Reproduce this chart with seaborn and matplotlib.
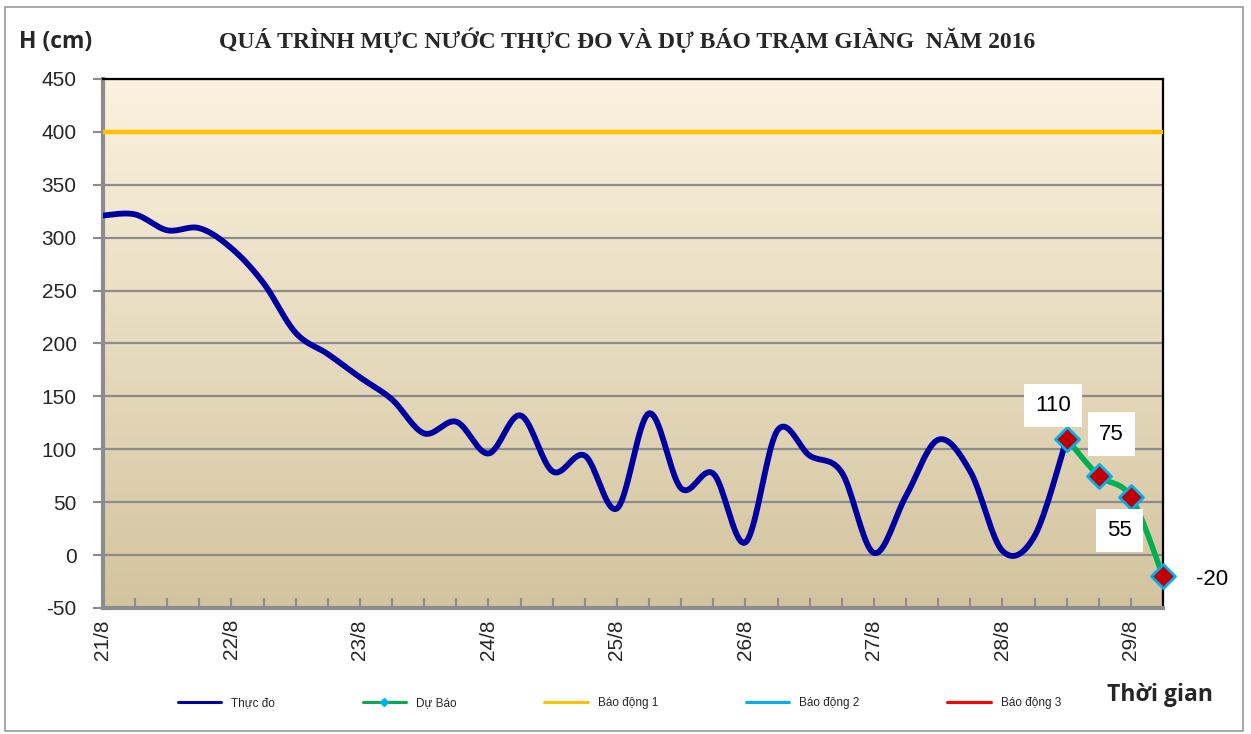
import numpy as np
import pandas as pd
import seaborn as sns
import matplotlib
matplotlib.use('Agg')
import matplotlib.pyplot as plt
from matplotlib.lines import Line2D
from matplotlib.patches import Rectangle

# water level (cm), every 6 hours from 21/8 00h
observed = [321, 322, 307, 309, 290, 257, 210, 190, 168, 147, 115, 126, 96, 132,
            79, 94, 44, 134, 63, 77, 12, 118, 94, 78, 2, 56, 109, 79, 4, 18, 110]
forecast = [110, 75, 55, -20]
alarm_1 = 400
day_labels = ['21/8', '22/8', '23/8', '24/8', '25/8', '26/8', '27/8', '28/8', '29/8']
legend_labels = ['Thực đo', 'Dự Báo', 'Báo động 1', 'Báo động 2', 'Báo động 3']
title = 'QUÁ TRÌNH MỰC NƯỚC THỰC ĐO VÀ DỰ BÁO TRẠM GIÀNG  NĂM 2016'


def smooth(x, y, n=20):
    # Catmull-Rom curve through the points, like Excel's "smoothed line"
    x = np.asarray(x, float)
    y = np.asarray(y, float)
    px = np.concatenate([[x[0]], x, [x[-1]]])
    py = np.concatenate([[y[0]], y, [y[-1]]])
    t = np.linspace(0, 1, n, endpoint=False)
    out_x, out_y = [], []
    for i in range(len(x) - 1):
        for p, out in ((px, out_x), (py, out_y)):
            p0, p1, p2, p3 = p[i], p[i + 1], p[i + 2], p[i + 3]
            out.extend(0.5 * (2 * p1 + (-p0 + p2) * t
                              + (2 * p0 - 5 * p1 + 4 * p2 - p3) * t ** 2
                              + (-p0 + 3 * p1 - 3 * p2 + p3) * t ** 3))
    out_x.append(x[-1])
    out_y.append(y[-1])
    return pd.DataFrame({'t': out_x, 'h': out_y})


obs_t = np.arange(len(observed))
fc_t = np.arange(len(forecast)) + len(observed) - 1
n_steps = fc_t[-1]

sns.set_theme(style='white')
plt.rcParams['font.family'] = ['Liberation Sans', 'DejaVu Sans']
plt.rcParams['axes.unicode_minus'] = False

fig = plt.figure(figsize=(12.51, 7.34), dpi=100)
fig.patches.append(Rectangle((0.004, 0.004), 0.99, 0.986, transform=fig.transFigure,
                             fill=False, edgecolor='#9a9a9a', lw=1.2))
ax = fig.add_axes([0.0823, 0.1717, 0.8474, 0.7207])

# beige gradient background
top = np.array([251, 242, 223]) / 255
bottom = np.array([211, 196, 158]) / 255
grad = np.linspace(0, 1, 256)[:, None, None] * (bottom - top) + top
grad = np.repeat(grad, 2, axis=1)
ax.imshow(grad, extent=[0, n_steps, -50, 450], aspect='auto', zorder=0)

ax.set_axisbelow(True)
ax.yaxis.grid(True, color='#8c8c8c', lw=1.6)

ax.axhline(alarm_1, color='#FFC000', lw=3.2, zorder=3)
sns.lineplot(data=smooth(obs_t, observed), x='t', y='h', sort=False, estimator=None,
             color='#0000A0', lw=4.2, ax=ax, zorder=4)
sns.lineplot(data=smooth(fc_t, forecast), x='t', y='h', sort=False, estimator=None,
             color='#00B050', lw=4.0, ax=ax, zorder=5)
sns.scatterplot(x=fc_t, y=forecast, marker='D', s=150, color='#C00000',
                edgecolor='#00B0F0', linewidth=2, ax=ax, zorder=6)
for coll in ax.collections:
    coll.set_clip_on(False)

label_offsets = [(-10, 24), (9, 30), (-8, -24), (35, -2)]
for tt, hh, off in zip(fc_t, forecast, label_offsets):
    ax.annotate(f'{hh}', (tt, hh), xytext=off, textcoords='offset points',
                ha='center', va='center', fontsize=16, color='black', zorder=7,
                bbox=dict(boxstyle='square,pad=0.5', fc='white', ec='none'),
                annotation_clip=False)

ax.set_xlim(0, n_steps)
ax.set_ylim(-50, 450)
ax.set_yticks(range(-50, 451, 50))
ax.set_xticks(range(0, n_steps, 4))
ax.set_xticklabels(day_labels, rotation=90)
ax.set_xticks(range(0, n_steps + 1), minor=True)
ax.tick_params(axis='y', direction='out', length=7, width=1.5, color='#8c8c8c',
               pad=12, labelsize=15, left=True)
ax.tick_params(axis='x', which='both', direction='in', length=7, width=1.5,
               color='#8c8c8c', pad=8, labelsize=15, bottom=True)
ax.set_xlabel('')
ax.set_ylabel('')

for side in ['left', 'bottom']:
    ax.spines[side].set_color('#8c8c8c')
    ax.spines[side].set_linewidth(3)
for side in ['top', 'right']:
    ax.spines[side].set_color('black')
    ax.spines[side].set_linewidth(1.6)

fig.text(0.501, 0.945, title, ha='center', va='center', fontsize=17,
         fontweight='bold', family=['Liberation Serif', 'DejaVu Serif'])
fig.text(0.015, 0.943, 'H (cm)', ha='left', va='center', fontsize=16.5,
         fontweight='bold', family=['Open Sans', 'DejaVu Sans'])
fig.text(0.927, 0.053, 'Thời gian', ha='center', va='center', fontsize=16.5,
         fontweight='bold', family=['Open Sans', 'DejaVu Sans'])

handles = [
    Line2D([], [], color='#0000A0', lw=2.2),
    Line2D([], [], color='#00B050', lw=2.2, marker='D', markersize=4,
           markerfacecolor='#00B0F0', markeredgecolor='#00B0F0'),
    Line2D([], [], color='#FFC000', lw=2.2),
    Line2D([], [], color='#00B0F0', lw=2.2),
    Line2D([], [], color='#FF0000', lw=2.2),
]
fig.legend(handles, legend_labels, loc='center left', bbox_to_anchor=(0.142, 0.042),
           ncol=5, frameon=False, fontsize=8.5, handlelength=3.7, handletextpad=0.85,
           columnspacing=7.4, borderpad=0, borderaxespad=0)

fig.savefig('out.png', dpi=100)
plt.close(fig)
